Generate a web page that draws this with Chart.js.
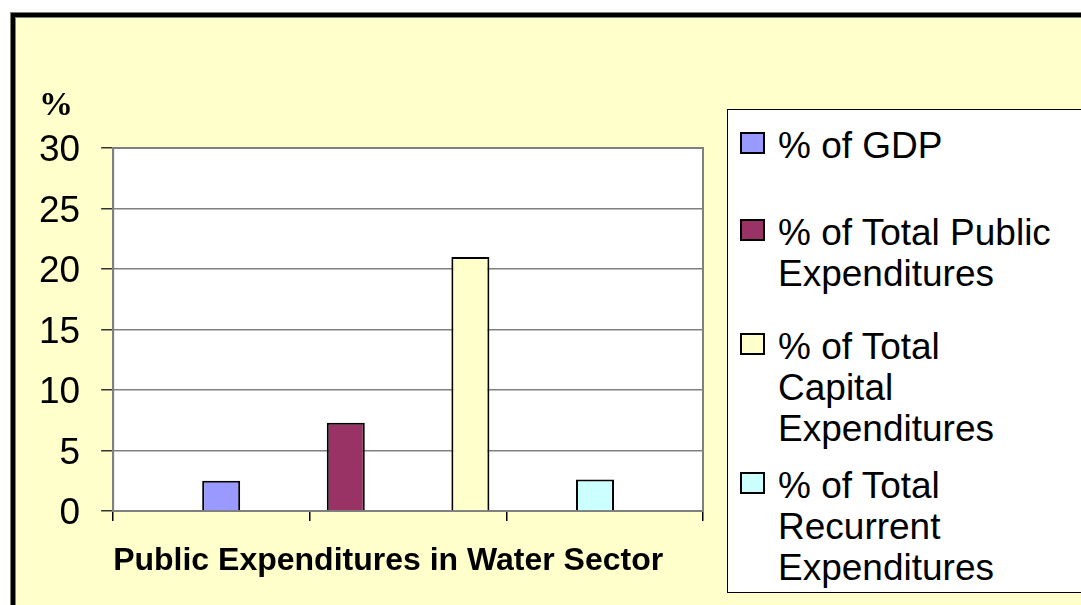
<!DOCTYPE html>
<html>
<head>
<meta charset="utf-8">
<script src="https://cdn.jsdelivr.net/npm/chart.js"></script>
<style>
  html, body { margin: 0; padding: 0; background: #fff; width: 1081px; height: 605px; overflow: hidden; }
  #frame { position: absolute; left: 11px; top: 13px; width: 1200px; height: 700px; background: #FFFFCC;
           border: 4px solid #000; outline: 1px solid #808070; box-shadow: inset 1px 1px 0 #808080; }
  #chart { position: absolute; left: 0; top: 0; }
  #legend { position: absolute; left: 727px; top: 109px; width: 400px; height: 482px; background: #fff;
            border: 1px solid #000; font-family: "Liberation Sans", Arial, sans-serif; font-size: 37px; line-height: 41px; color: #000; }
  .item { position: absolute; left: 12px; }
  .box { position: absolute; left: 0; top: 7px; width: 25px; height: 22px; box-sizing: border-box; border: 2px solid #000; }
  .txt { position: absolute; left: 38px; top: 0; width: 280px; }
</style>
</head>
<body>
<div id="frame"></div>
<canvas id="chart" width="1081" height="605"></canvas>
<div id="legend"></div>
<script>
// data
const categories = ['Public Expenditures in Water Sector'];
const seriesNames = [
  '% of GDP',
  '% of Total Public Expenditures',
  '% of Total Capital Expenditures',
  '% of Total Recurrent Expenditures'
];
const seriesValues = [2.5, 7.3, 21.0, 2.6];
const seriesColors = ['#9999FF', '#993366', '#FFFFCC', '#CCFFFF'];
const yTicks = [0, 5, 10, 15, 20, 25, 30];
const xTickMarks = [0, 1, 2, 3];

// legend item offsets (px from legend top)
const legendTops = [15, 102, 216, 355];

const sans = '"Liberation Sans", Arial, sans-serif';

const plotArea = {
  id: 'plotArea',
  beforeDraw(chart) {
    const { ctx, chartArea: a } = chart;
    ctx.save();
    ctx.fillStyle = '#fff';
    ctx.fillRect(a.left, a.top, a.right - a.left, a.bottom - a.top);
    ctx.restore();
  },
  beforeDatasetsDraw(chart) {
    const { ctx, chartArea: a } = chart;
    ctx.save();
    ctx.strokeStyle = '#808080';
    ctx.lineWidth = 2;
    ctx.strokeRect(a.left, a.top, a.right - a.left, a.bottom - a.top);
    ctx.restore();
  }
};

const datasets = seriesNames.map((name, i) => ({
  label: name,
  data: [seriesValues[i]],
  backgroundColor: seriesColors[i],
  borderColor: '#000',
  borderWidth: 2,
  categoryPercentage: 0.845,
  barPercentage: 0.305
}));

new Chart(document.getElementById('chart'), {
  type: 'bar',
  data: { labels: categories, datasets: datasets },
  plugins: [plotArea],
  options: {
    responsive: false,
    animation: false,
    layout: { padding: { left: 39, right: 378, top: 80, bottom: 24.6 } },
    plugins: {
      legend: { display: false },
      tooltip: { enabled: false },
      title: {
        display: true,
        text: '%',
        align: 'start',
        color: '#000',
        font: { family: '"Liberation Serif", "Times New Roman", serif', size: 34, weight: 'bold', lineHeight: 1.2 },
        padding: { top: 5.6, bottom: 21.6 }
      }
    },
    scales: {
      x: {
        type: 'category',
        position: 'bottom',
        weight: 1,
        grid: { display: false, drawTicks: false },
        border: { display: false },
        ticks: { display: false },
        title: {
          display: true,
          text: categories[0],
          align: 'start',
          color: '#000',
          font: { family: sans, size: 32, weight: 'bold', lineHeight: 1.2 },
          padding: { top: 21, bottom: 0 }
        }
      },
      xt: {
        type: 'linear',
        axis: 'x',
        position: 'bottom',
        weight: 0,
        offset: false,
        min: xTickMarks[0],
        max: xTickMarks[xTickMarks.length - 1],
        ticks: { display: false, stepSize: 1 },
        grid: { offset: false, drawOnChartArea: false, tickLength: 10, color: '#000', lineWidth: 1.5 },
        border: { display: true, color: '#000', width: 2 }
      },
      y: {
        min: yTicks[0],
        max: yTicks[yTicks.length - 1],
        ticks: {
          stepSize: yTicks[1] - yTicks[0],
          color: '#000',
          font: { family: sans, size: 37, lineHeight: 1.2 },
          padding: 21,
          labelOffset: 3
        },
        grid: {
          color: c => (c.tick && c.tick.value === 0 ? '#000' : '#808080'),
          lineWidth: 1.5,
          tickLength: 12,
          tickColor: '#333'
        },
        border: { display: true, color: '#808080', width: 2 },
        // fit() counts the label padding twice; keep only one
        afterFit: scale => { scale.width -= scale.options.ticks.padding; }
      }
    }
  }
});

// legend built from the same series arrays
const legend = document.getElementById('legend');
seriesNames.forEach((name, i) => {
  const item = document.createElement('div');
  item.className = 'item';
  item.style.top = legendTops[i] + 'px';
  const box = document.createElement('span');
  box.className = 'box';
  box.style.background = seriesColors[i];
  const txt = document.createElement('div');
  txt.className = 'txt';
  txt.textContent = name;
  item.appendChild(box);
  item.appendChild(txt);
  legend.appendChild(item);
});
</script>
</body>
</html>
